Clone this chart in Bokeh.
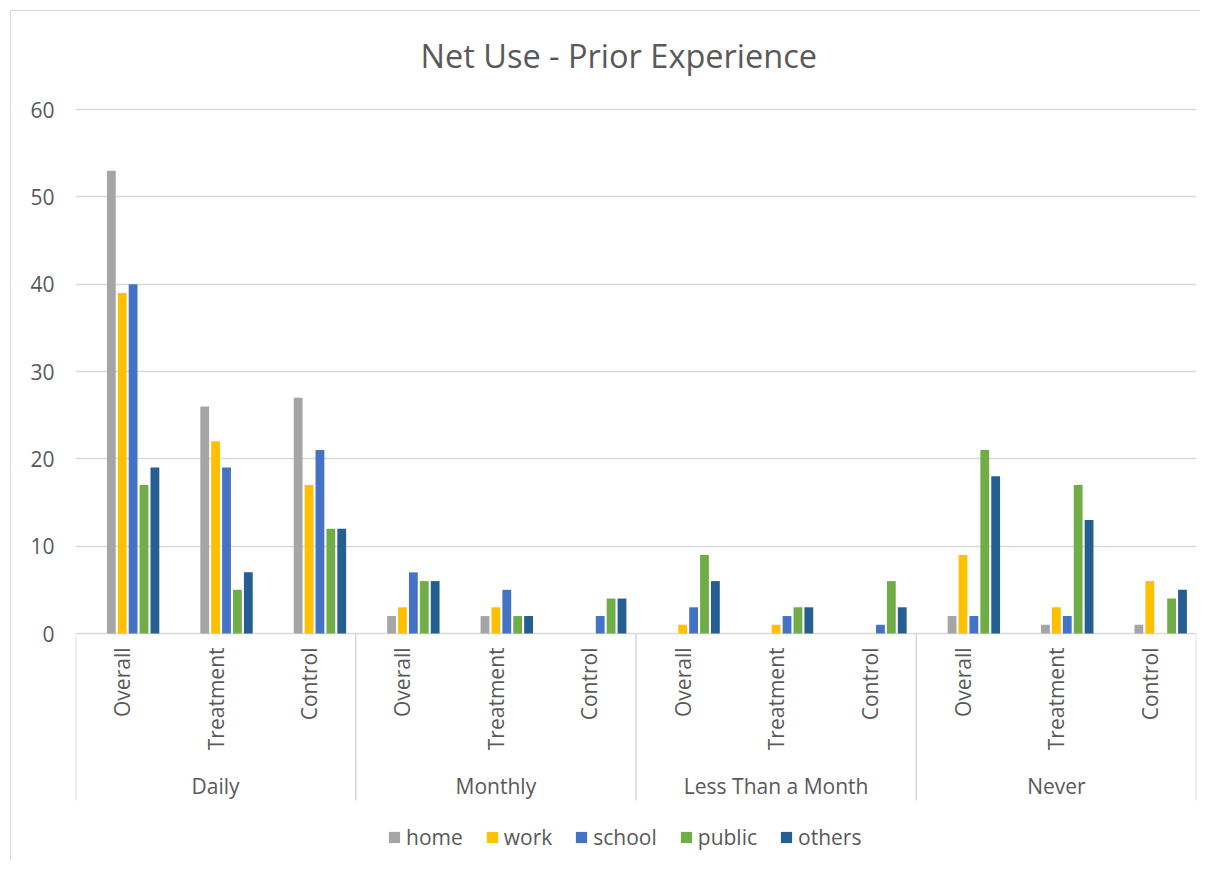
from bokeh.plotting import figure
from bokeh.models import FactorRange, Range1d, FixedTicker, ColumnDataSource, Legend, LegendItem
from bokeh.transform import dodge
from bokeh.core.properties import value
from bokeh.embed import file_html
from bokeh.resources import INLINE

# ---- data ----
groups = ["Daily", "Monthly", "Less Than a Month", "Never"]
subgroups = ["Overall", "Treatment", "Control"]
series = ["home", "work", "school", "public", "others"]
home = [53, 26, 27, 2, 2, 0, 0, 0, 0, 2, 1, 1]
work = [39, 22, 17, 3, 3, 0, 1, 1, 0, 9, 3, 6]
school = [40, 19, 21, 7, 5, 2, 3, 2, 1, 2, 2, 0]
public = [17, 5, 12, 6, 2, 4, 9, 3, 6, 21, 17, 4]
others = [19, 7, 12, 6, 2, 4, 6, 3, 3, 18, 13, 5]
y_ticks = [0, 10, 20, 30, 40, 50, 60]
title_text = "Net Use - Prior Experience"

colors = ["#A5A5A5", "#FFC000", "#4472C4", "#70AD47", "#255E91"]
TXT = "#595959"
GRID = "#D9D9D9"
FONT = "Open Sans"
FS = "21px"

factors = [(g, s) for g in groups for s in subgroups]

# ---- geometry (pixels) ----
frame_w = 1121
frame_top, frame_bottom = 95, 858       # absolute page pixels
zero_px, sixty_px = 633, 109
ppu = (zero_px - sixty_px) / 60.0
y_top = (zero_px - frame_top) / ppu
y_bot = -(frame_bottom - zero_px) / ppu
cat_px = frame_w / len(factors)

def px_to_y(py):
    return (zero_px - py) / ppu

x_range = FactorRange(*factors, factor_padding=0, group_padding=0, range_padding=0)

p = figure(x_range=x_range, y_range=Range1d(y_bot, y_top),
           frame_width=frame_w, frame_height=frame_bottom - frame_top,
           min_border_left=64, min_border_right=4, min_border_top=84, min_border_bottom=2,
           x_axis_location=None, output_backend="svg", toolbar_location=None,
           tools="")
p.margin = (10, 0, 0, 10)
p.styles = {"border-top": "1px solid #D9D9D9", "border-left": "1px solid #D9D9D9"}
p.outline_line_color = None
p.background_fill_color = "white"
p.border_fill_color = "white"

p.title.text = title_text
p.title.align = "left"
p.title.text_font = FONT
p.title.text_font_size = "32.5px"
p.title.text_font_style = "normal"
p.title.text_color = TXT
p.title.offset = 345
p.title.standoff = 35

yax = p.yaxis[0]
yax.ticker = FixedTicker(ticks=y_ticks)
yax.axis_line_color = None
yax.major_tick_line_color = None
yax.minor_tick_line_color = None
yax.major_tick_out = 0
yax.major_tick_in = 0
yax.major_label_standoff = 21
yax.major_label_text_font = FONT
yax.major_label_text_font_size = FS
yax.major_label_text_color = TXT

p.xgrid.grid_line_color = None
p.ygrid.ticker = FixedTicker(ticks=y_ticks)
p.ygrid.grid_line_color = GRID
p.ygrid.grid_line_width = 1.4

src = ColumnDataSource(dict(x=factors, home=home, work=work, school=school,
                            public=public, others=others))
pitch = 10.9 / cat_px
bw = 8.8 / cat_px
renderers = []
for i, (name, col) in enumerate(zip(series, colors)):
    r = p.vbar(x=dodge("x", (i - 1) * pitch, range=x_range), top=name, width=bw,
               source=src, fill_color=col, line_color=None)
    renderers.append(r)

# category separators
bounds = [float(len(subgroups) * k) for k in range(len(groups) + 1)]
p.segment(x0=bounds, x1=bounds, y0=[0] * len(bounds), y1=[px_to_y(800)] * len(bounds),
          line_color=GRID, line_width=1.6)

# sub labels
p.text(x=factors, y=[px_to_y(647)] * len(factors), text=[f[1] for f in factors],
       angle=1.5707963, text_align="right", text_baseline="middle",
       text_font=value(FONT), text_font_size=FS, text_color=TXT)
# group labels
p.text(x=groups, y=[px_to_y(785)] * len(groups), text=groups,
       text_align="center", text_baseline="middle",
       text_font=value(FONT), text_font_size=FS, text_color=TXT)

legend = Legend(items=[LegendItem(label=s, renderers=[r]) for s, r in zip(series, renderers)],
                orientation="horizontal", location=(312, 7))
legend.label_text_font = FONT
legend.label_text_font_size = FS
legend.label_text_color = TXT
legend.glyph_width = 14
legend.glyph_height = 14
legend.label_standoff = 5
legend.spacing = 22
legend.padding = 0
legend.margin = 0
legend.border_line_color = None
legend.background_fill_alpha = 0
p.add_layout(legend)

open("out.html", "w").write(file_html(p, INLINE))
